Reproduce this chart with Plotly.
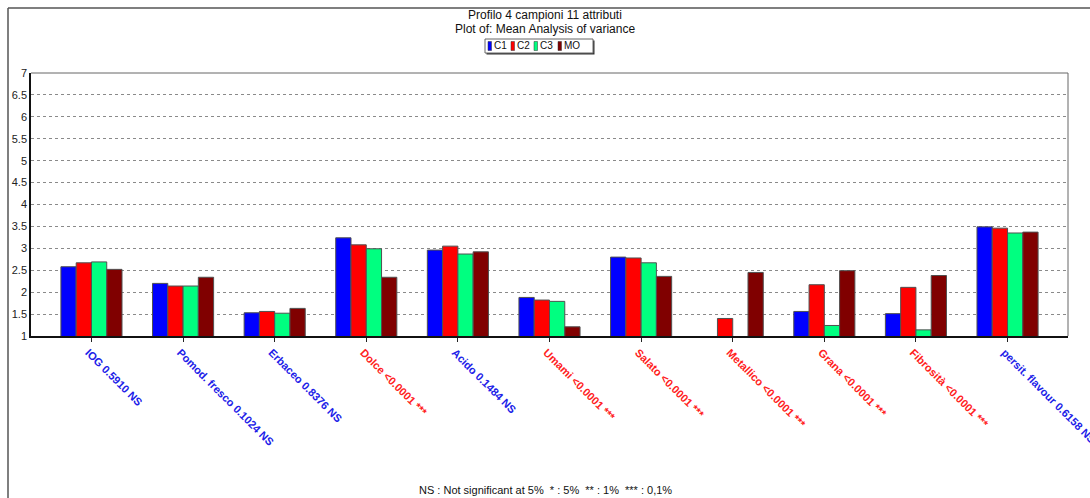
import plotly.graph_objects as go

# --- data -------------------------------------------------------------
categories = ["IOG", "Pomod. fresco", "Erbaceo", "Dolce", "Acido", "Umami",
              "Salato", "Metallico", "Grana", "Fibrosità", "persit. flavour"]
p_values = ["0.5910 NS", "0.1024 NS", "0.8376 NS", "&lt;0.0001 ***", "0.1484 NS",
            "&lt;0.0001 ***", "&lt;0.0001 ***", "&lt;0.0001 ***", "&lt;0.0001 ***",
            "&lt;0.0001 ***", "0.6158 NS"]
significant = [False, False, False, True, False, True, True, True, True, True, False]

series_names = ["C1", "C2", "C3", "MO"]
C1 = [2.58, 2.20, 1.53, 3.24, 2.96, 1.88, 2.80, None, 1.56, 1.51, 3.49]
C2 = [2.67, 2.14, 1.56, 3.08, 3.05, 1.82, 2.78, 1.40, 2.17, 2.11, 3.46]
C3 = [2.69, 2.14, 1.52, 2.99, 2.87, 1.79, 2.67, None, 1.24, 1.14, 3.35]
MO = [2.52, 2.34, 1.63, 2.34, 2.92, 1.21, 2.36, 2.45, 2.49, 2.38, 3.37]
series_values = [C1, C2, C3, MO]
series_colors = ["#0000FF", "#FF0000", "#00FF80", "#800000"]

y_ticks = [1, 1.5, 2, 2.5, 3, 3.5, 4, 4.5, 5, 5.5, 6, 6.5, 7]

# --- layout geometry (pixels) -----------------------------------------
W, H = 1090, 498
ML, MR, MT, MB = 31, 22, 73, 162
PW, PH = W - ML - MR, H - MT - MB
FONT = "Liberation Sans, Arial, sans-serif"


def px(x):
    return (x - ML) / PW


def py(y):
    return (H - MB - y) / PH


fig = go.Figure()
for name, vals, col in zip(series_names, series_values, series_colors):
    fig.add_trace(go.Bar(
        x=list(range(len(categories))), y=vals, name=name,
        marker=dict(color=col, line=dict(color="#505050", width=1)),
        showlegend=False,
    ))

blue_lbl, red_lbl = "#2020E8", "#FF2020"
ticktext = [
    f'<span style="color:{red_lbl if s else blue_lbl}">{c} {p}</span>'
    for c, p, s in zip(categories, p_values, significant)
]

fig.update_layout(
    width=W, height=H,
    margin=dict(l=ML, r=MR, t=MT, b=MB, autoexpand=False),
    paper_bgcolor="white", plot_bgcolor="white",
    barmode="group", bargap=0.333, bargroupgap=0,
    font=dict(family=FONT, size=11, color="#222222"),
    xaxis=dict(
        range=[-0.66, len(categories) - 1 + 0.66],
        tickvals=list(range(len(categories))), ticktext=ticktext,
        tickangle=45, tickfont=dict(size=11, family=FONT, weight="bold"),
        ticks="outside", ticklen=4, tickcolor="#222222",
        showline=True, linecolor="#111111", linewidth=2,
        showgrid=False, zeroline=False, automargin=False,
        ticklabeloverflow="allow", ticklabelshift=-3,
    ),
    yaxis=dict(
        range=[1, 7], tickvals=y_ticks, ticktext=[f"{v:g}" for v in y_ticks],
        tickfont=dict(size=11, family=FONT, color="#222222"),
        showline=True, linecolor="#111111", linewidth=1.5,
        showgrid=True, gridcolor="#8a8a8a", griddash="dot", gridwidth=1,
        zeroline=False, ticks="", automargin=False,
    ),
)

shapes = []
# top and right border of the plotting area
shapes.append(dict(type="line", xref="paper", yref="paper", x0=0, x1=1, y0=1, y1=1,
                   line=dict(color="#666666", width=1)))
shapes.append(dict(type="line", xref="paper", yref="paper", x0=1, x1=1, y0=0, y1=1,
                   line=dict(color="#666666", width=1)))
# outer frame (top and left edges)
shapes.append(dict(type="line", xref="paper", yref="paper", x0=px(8), x1=px(W), y0=py(8), y1=py(8),
                   line=dict(color="#555555", width=1.5)))
shapes.append(dict(type="line", xref="paper", yref="paper", x0=px(8), x1=px(8), y0=py(8), y1=py(H),
                   line=dict(color="#555555", width=1.5)))

# legend box with a shadow on the right/bottom
lx0, lx1, ly0, ly1 = 485, 593, 39, 53
shapes.append(dict(type="rect", xref="paper", yref="paper",
                   x0=px(lx0 + 1.5), x1=px(lx1 + 1.5), y0=py(ly1 + 1.5), y1=py(ly0 + 1.5),
                   line=dict(width=0), fillcolor="#333333"))
shapes.append(dict(type="rect", xref="paper", yref="paper",
                   x0=px(lx0), x1=px(lx1), y0=py(ly1), y1=py(ly0),
                   line=dict(color="#666666", width=1), fillcolor="white"))

annotations = []
item_x = [488, 511, 534, 558]
for name, col, x0 in zip(series_names, series_colors, item_x):
    shapes.append(dict(type="rect", xref="paper", yref="paper",
                       x0=px(x0), x1=px(x0 + 3.5), y0=py(ly1 - 2.5), y1=py(ly0 + 2.5),
                       line=dict(color="#333333", width=0.5), fillcolor=col))
    annotations.append(dict(xref="paper", yref="paper", x=px(x0 + 4), y=py((ly0 + ly1) / 2),
                            text=name, showarrow=False, xanchor="left", yanchor="middle",
                            font=dict(size=10, family=FONT, color="#111111")))

annotations.append(dict(xref="paper", yref="paper", x=px(545), y=py(15),
                        text="Profilo 4 campioni 11 attributi", showarrow=False,
                        xanchor="center", yanchor="middle",
                        font=dict(size=12, family=FONT, color="#111111")))
annotations.append(dict(xref="paper", yref="paper", x=px(545), y=py(29),
                        text="Plot of: Mean Analysis of variance", showarrow=False,
                        xanchor="center", yanchor="middle",
                        font=dict(size=12, family=FONT, color="#111111")))
annotations.append(dict(xref="paper", yref="paper", x=px(545), y=py(490),
                        text="NS : Not significant at 5%  * : 5%  ** : 1%  *** : 0,1%",
                        showarrow=False, xanchor="center", yanchor="middle",
                        font=dict(size=11, family=FONT, color="#111111")))

fig.update_layout(shapes=shapes, annotations=annotations)

fig.write_html("out.html")
